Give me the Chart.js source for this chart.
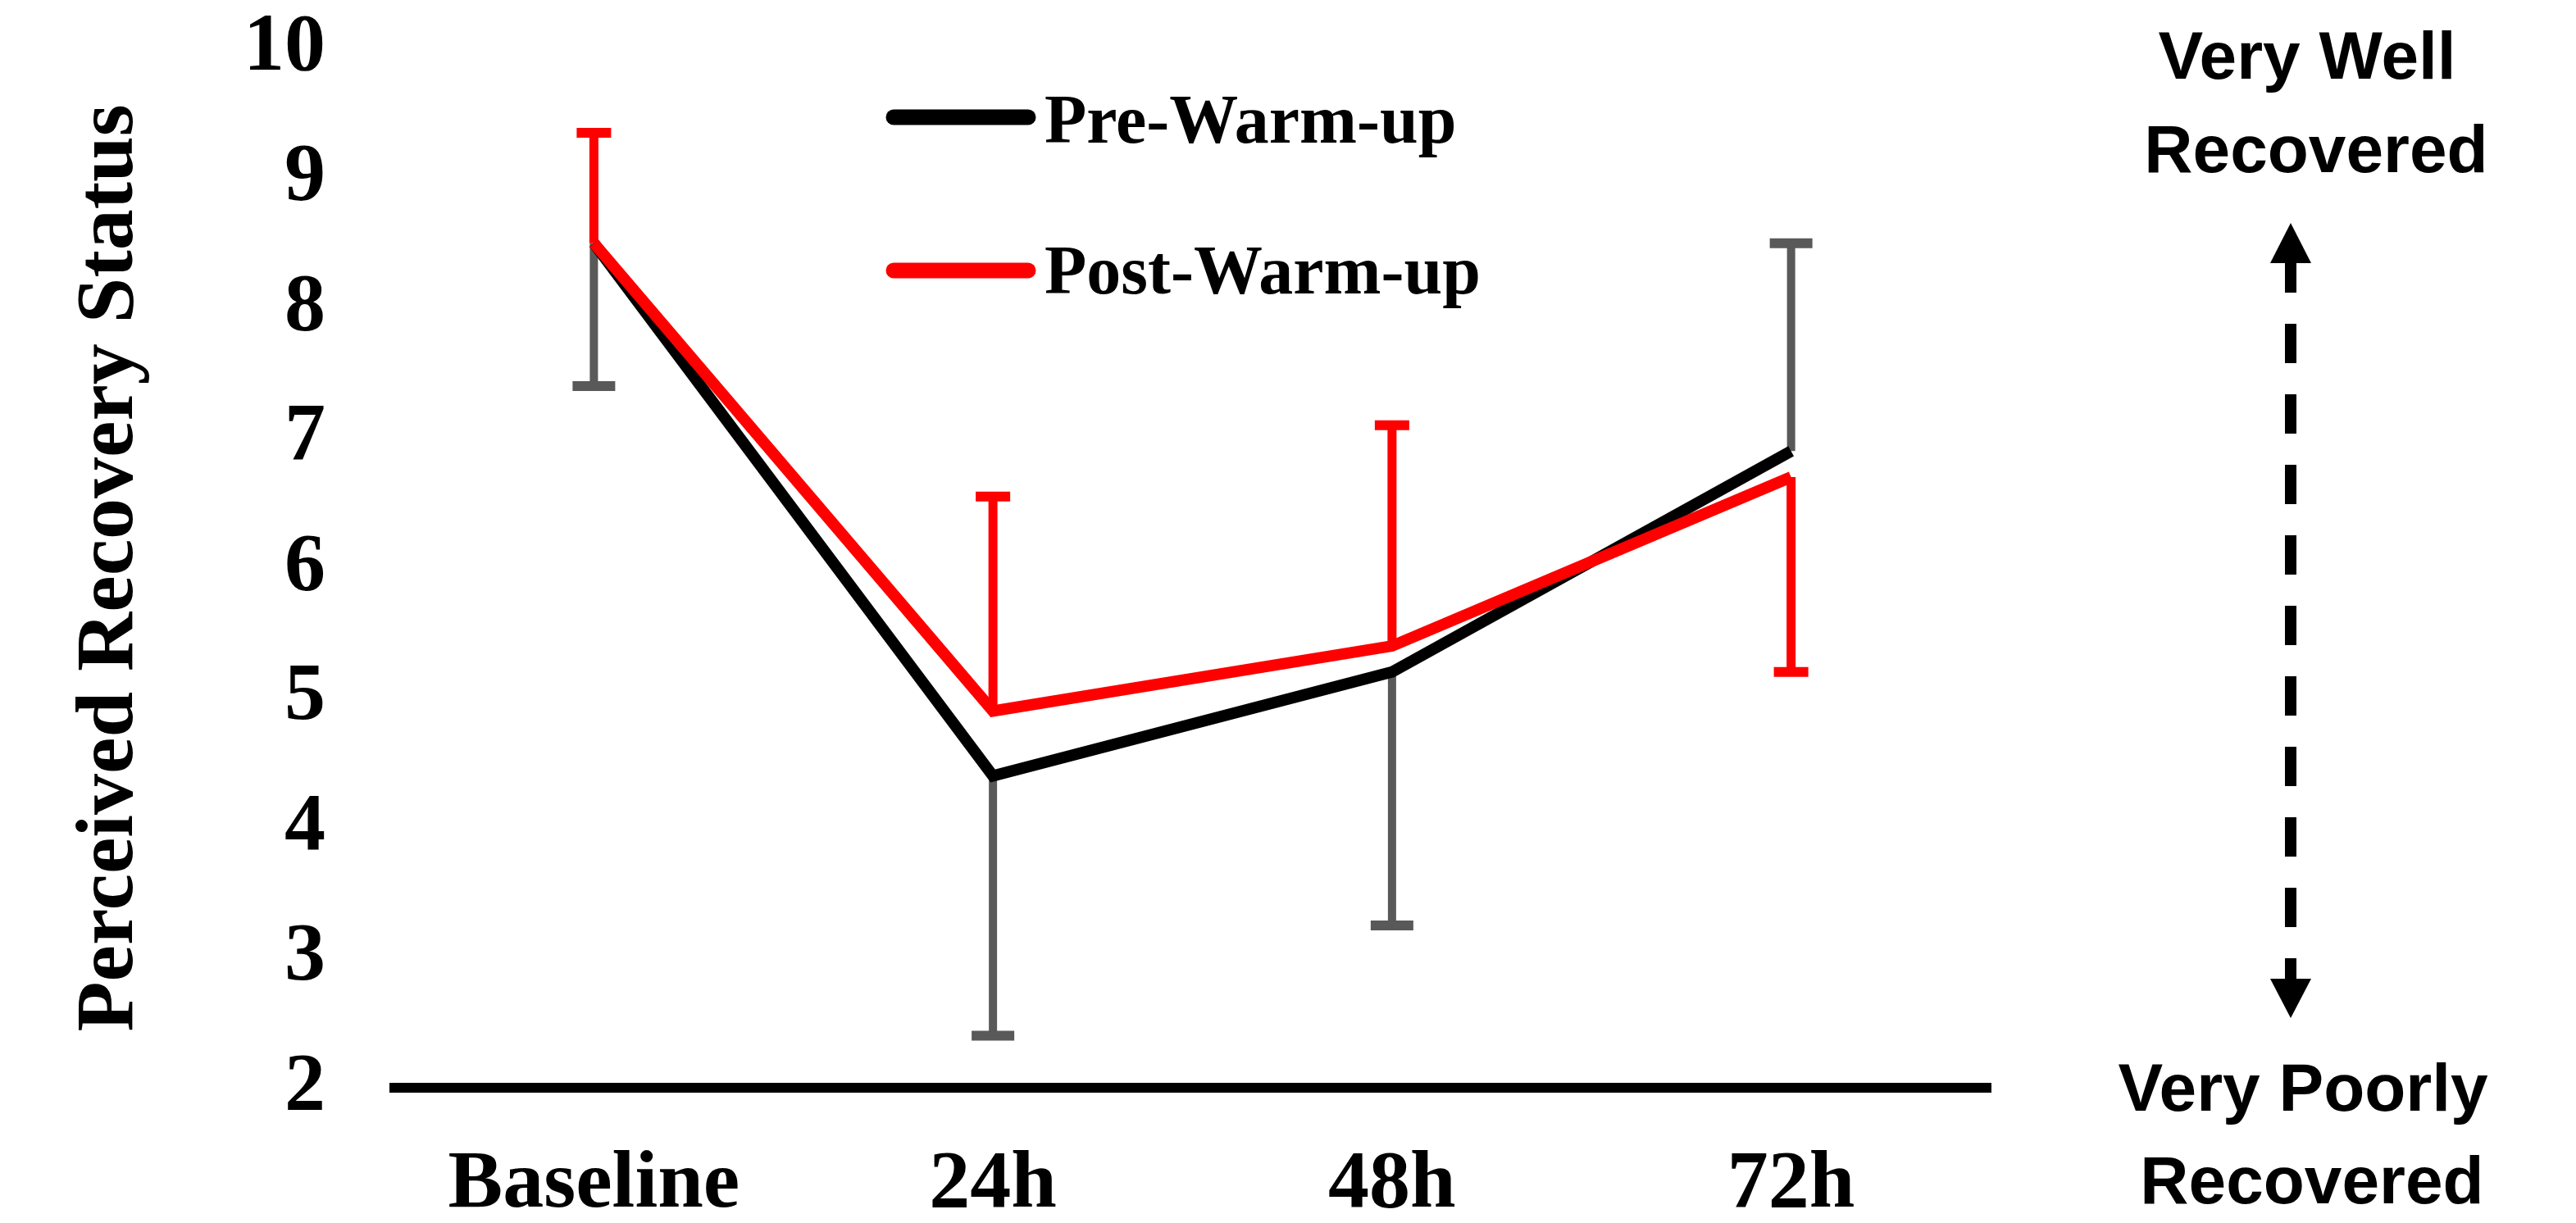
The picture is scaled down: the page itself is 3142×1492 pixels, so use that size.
<!DOCTYPE html>
<html>
<head>
<meta charset="utf-8">
<title>Perceived Recovery Status</title>
<script src="https://cdn.jsdelivr.net/npm/chart.js@4.4.1/dist/chart.umd.min.js"></script>
<style>
  html, body { margin: 0; padding: 0; background: #fff; }
  #wrap { width: 3142px; height: 1492px; position: relative; }
</style>
</head>
<body>
<div id="wrap"><canvas id="recoveryChart"></canvas></div>
<script>
const timepoints = ['Baseline', '24h', '48h', '72h'];
const preWarmup = [8.5, 4.4, 5.2, 6.9];
const postWarmup = [8.5, 4.9, 5.4, 6.7];
// one-sided SD bars, a negative value is drawn downward
const preSD = [-1.1, -2.0, -1.95, 1.6];
const postSD = [0.85, 1.65, 1.7, -1.5];
const yTicks = [2, 3, 4, 5, 6, 7, 8, 9, 10];
const topNote = ['Very Well', 'Recovered'];
const bottomNote = ['Very Poorly', 'Recovered'];

const serif = "'Liberation Serif', 'Times New Roman', serif";
const sans = "'Liberation Sans', Arial, sans-serif";

const errorBars = {
  id: 'errorBars',
  beforeDatasetsDraw(chart) {
    const ctx = chart.ctx;
    const y = chart.scales.y;
    chart.data.datasets.forEach((ds, i) => {
      const meta = chart.getDatasetMeta(i);
      ctx.save();
      ctx.strokeStyle = ds.errColor;
      meta.data.forEach((pt, j) => {
        const base = y.getPixelForValue(ds.data[j]);
        const end = y.getPixelForValue(ds.data[j] + ds.sd[j]);
        ctx.lineWidth = ds.errWidth;
        ctx.beginPath();
        ctx.moveTo(pt.x, base);
        ctx.lineTo(pt.x, end);
        ctx.stroke();
        ctx.lineWidth = 12;
        ctx.beginPath();
        ctx.moveTo(pt.x - ds.capWidth / 2, end);
        ctx.lineTo(pt.x + ds.capWidth / 2, end);
        ctx.stroke();
      });
      ctx.restore();
    });
  }
};

const legendBox = {
  id: 'legendBox',
  afterDraw(chart) {
    const ctx = chart.ctx;
    const rows = [{ line: 143, text: 174 }, { line: 330, text: 358 }];
    ctx.save();
    chart.data.datasets.forEach((ds, i) => {
      ctx.strokeStyle = ds.borderColor;
      ctx.lineWidth = 19;
      ctx.lineCap = 'round';
      ctx.beginPath();
      ctx.moveTo(1090, rows[i].line);
      ctx.lineTo(1254, rows[i].line);
      ctx.stroke();
      ctx.fillStyle = '#000';
      ctx.font = 'bold 84px ' + serif;
      ctx.textAlign = 'left';
      ctx.textBaseline = 'alphabetic';
      ctx.fillText(ds.label, 1274, rows[i].text);
    });
    ctx.restore();
  }
};

const recoveryScale = {
  id: 'recoveryScale',
  afterDraw(chart) {
    const ctx = chart.ctx;
    const cx = 2794;
    ctx.save();
    ctx.fillStyle = '#000';
    ctx.font = 'bold 82px ' + sans;
    ctx.textAlign = 'center';
    ctx.textBaseline = 'alphabetic';
    ctx.fillText(topNote[0], 2814, 96);
    ctx.fillText(topNote[1], 2825, 210);
    ctx.fillText(bottomNote[0], 2809, 1355);
    ctx.fillText(bottomNote[1], 2820, 1468);

    // dashed double arrow
    ctx.strokeStyle = '#000';
    ctx.lineWidth = 14;
    ctx.setLineDash([48, 38]);
    ctx.lineDashOffset = 9;
    ctx.beginPath();
    ctx.moveTo(cx, 318);
    ctx.lineTo(cx, 1196);
    ctx.stroke();
    ctx.setLineDash([]);
    ctx.beginPath();
    ctx.moveTo(cx, 272);
    ctx.lineTo(cx - 25, 321);
    ctx.lineTo(cx + 25, 321);
    ctx.closePath();
    ctx.fill();
    ctx.beginPath();
    ctx.moveTo(cx, 1242);
    ctx.lineTo(cx - 25, 1194);
    ctx.lineTo(cx + 25, 1194);
    ctx.closePath();
    ctx.fill();
    ctx.restore();
  }
};

new Chart(document.getElementById('recoveryChart'), {
  type: 'line',
  data: {
    labels: timepoints,
    datasets: [
      {
        label: 'Pre-Warm-up',
        data: preWarmup,
        sd: preSD,
        borderColor: '#000000',
        errColor: '#595959',
        errWidth: 10,
        capWidth: 52,
        order: 1
      },
      {
        label: 'Post-Warm-up',
        data: postWarmup,
        sd: postSD,
        borderColor: '#ff0000',
        errColor: '#ff0000',
        errWidth: 11,
        capWidth: 42,
        order: 0
      }
    ]
  },
  options: {
    responsive: true,
    maintainAspectRatio: false,
    animation: false,
    layout: { padding: { top: 59, right: 714, bottom: 0, left: 0 } },
    elements: {
      line: { borderWidth: 14, tension: 0, borderJoinStyle: 'miter', fill: false },
      point: { radius: 0, hoverRadius: 0 }
    },
    plugins: { legend: { display: false }, tooltip: { enabled: false } },
    scales: {
      x: {
        offset: true,
        grid: { display: false, drawTicks: false },
        border: { display: true, color: '#000', width: 12 },
        ticks: { color: '#000', padding: 59, font: { family: serif, size: 100, weight: 'bold' } },
        afterFit: s => { s.height = 165; s.paddingLeft = 0; s.paddingRight = 0; }
      },
      y: {
        min: yTicks[0],
        max: yTicks[yTicks.length - 1],
        grid: { display: false, drawTicks: false },
        border: { display: false },
        ticks: { stepSize: 1, color: '#000', padding: 84, font: { family: serif, size: 100, weight: 'bold' } },
        title: {
          display: true,
          text: 'Perceived Recovery Status',
          color: '#000',
          padding: { top: 75, bottom: 0 },
          font: { family: serif, size: 100, weight: 'bold' }
        },
        afterFit: s => { s.width = 481; s.paddingTop = 0; s.paddingBottom = 0; }
      }
    }
  },
  plugins: [errorBars, legendBox, recoveryScale]
});
</script>
</body>
</html>
